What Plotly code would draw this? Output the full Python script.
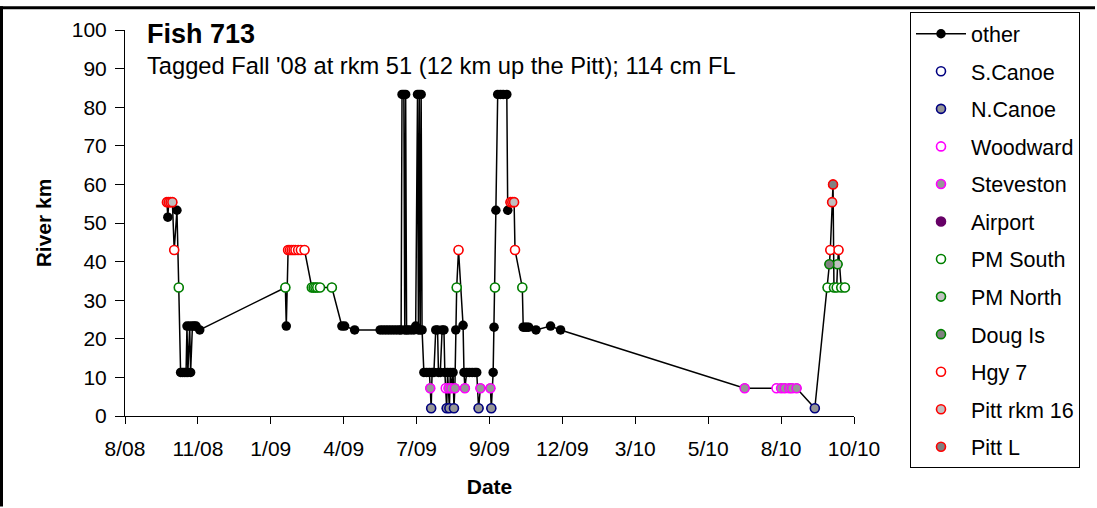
import plotly.graph_objects as go
import pandas as pd

# ---------------- data ----------------
dates = [
    "2008-10-05", "2008-10-06", "2008-10-07", "2008-10-09", "2008-10-11", "2008-10-13", "2008-10-16", "2008-10-18",
    "2008-10-20", "2008-10-22", "2008-10-24", "2008-10-26", "2008-10-27", "2008-10-28", "2008-10-30", "2008-10-31",
    "2008-11-02", "2008-11-04", "2008-11-06", "2008-11-10",
    "2009-02-12", "2009-02-13", "2009-02-15", "2009-02-17", "2009-02-19", "2009-02-21", "2009-02-23", "2009-02-26",
    "2009-03-01", "2009-03-05", "2009-03-13", "2009-03-15", "2009-03-17", "2009-03-19", "2009-03-22", "2009-04-04",
    "2009-04-15", "2009-04-18", "2009-04-29",
    "2009-05-27", "2009-05-30", "2009-06-02", "2009-06-05", "2009-06-08", "2009-06-11", "2009-06-14", "2009-06-17",
    "2009-06-19", "2009-06-20", "2009-06-22", "2009-06-23", "2009-06-24", "2009-06-25", "2009-06-27", "2009-06-30",
    "2009-07-03", "2009-07-05", "2009-07-07", "2009-07-08", "2009-07-09", "2009-07-10", "2009-07-11", "2009-07-12",
    "2009-07-14", "2009-07-17", "2009-07-20", "2009-07-21", "2009-07-22", "2009-07-23", "2009-07-25", "2009-07-27",
    "2009-07-29", "2009-07-30", "2009-08-01", "2009-08-03", "2009-08-05", "2009-08-06", "2009-08-07", "2009-08-08",
    "2009-08-09", "2009-08-10", "2009-08-11", "2009-08-12", "2009-08-13", "2009-08-15", "2009-08-16", "2009-08-17",
    "2009-08-18", "2009-08-19", "2009-08-21", "2009-08-26", "2009-08-27", "2009-08-28", "2009-08-30", "2009-09-02",
    "2009-09-05", "2009-09-08", "2009-09-10", "2009-09-12", "2009-09-14", "2009-09-25", "2009-09-26", "2009-09-28",
    "2009-09-29", "2009-09-30", "2009-10-01", "2009-10-03", "2009-10-06", "2009-10-09", "2009-10-13", "2009-10-14",
    "2009-10-17", "2009-10-19", "2009-10-21", "2009-10-22", "2009-10-30", "2009-10-31", "2009-11-02", "2009-11-04",
    "2009-11-06", "2009-11-14", "2009-11-30", "2009-12-11",
    "2010-07-01", "2010-08-05", "2010-08-10", "2010-08-14", "2010-08-19", "2010-08-22", "2010-08-27", "2010-09-16",
    "2010-09-30", "2010-10-02", "2010-10-03", "2010-10-05", "2010-10-06", "2010-10-07", "2010-10-10", "2010-10-11",
    "2010-10-12", "2010-10-15", "2010-10-19",
]

river_km = [
    55.4, 51.5, 55.4, 55.4, 55.4, 43.0, 53.3, 33.3,
    11.3, 11.3, 11.3, 11.3, 23.3, 11.3, 23.3, 11.3,
    23.3, 23.3, 23.3, 22.3,
    33.3, 23.3, 43.0, 43.0, 43.0, 43.0, 43.0, 43.0,
    43.0, 43.0, 33.3, 33.3, 33.3, 33.3, 33.3, 33.3,
    23.3, 23.3, 22.3,
    22.3, 22.3, 22.3, 22.3, 22.3, 22.3, 22.3, 22.3,
    22.3, 83.3, 83.3, 22.3, 83.3, 22.3, 22.3, 22.3,
    22.3, 23.3, 83.3, 22.3, 83.3, 22.3, 83.3, 22.3,
    11.3, 11.3, 11.3, 7.2, 2.0, 11.3, 11.3, 22.3,
    22.3, 11.3, 11.3, 22.3, 22.3, 11.3, 7.2, 2.0,
    11.3, 7.2, 2.0, 11.3, 7.2, 11.3, 2.0, 7.2,
    22.3, 33.3, 43.0, 23.5, 11.3, 7.2, 11.3, 11.3,
    11.3, 11.3, 11.3, 2.0, 7.2, 7.2, 2.0, 11.3,
    23.0, 33.3, 53.3, 83.3, 83.3, 83.3, 83.3, 53.3,
    55.4, 55.4, 55.4, 43.0, 33.3, 23.0, 23.0, 23.0,
    23.0, 22.3, 23.3, 22.3,
    7.2, 7.2, 7.2, 7.2, 7.2, 7.2, 7.2, 2.0,
    33.3, 39.3, 43.0, 55.4, 60.0, 33.3, 33.3, 39.3,
    43.0, 33.3, 33.3,
]

station = [
    "Pitt rkm 16", "other", "Pitt rkm 16", "Pitt rkm 16", "Pitt rkm 16", "Hgy 7", "other", "PM South",
    "other", "other", "other", "other", "other", "other", "other", "other",
    "other", "other", "other", "other",
    "PM South", "other", "Hgy 7", "Hgy 7", "Hgy 7", "Hgy 7", "Hgy 7", "Hgy 7",
    "Hgy 7", "Hgy 7", "PM South", "PM South", "PM South", "PM South", "PM South", "PM South",
    "other", "other", "other",
    "other", "other", "other", "other", "other", "other", "other", "other",
    "other", "other", "other", "other", "other", "other", "other", "other",
    "other", "other", "other", "other", "other", "other", "other", "other",
    "other", "other", "other", "Steveston", "N.Canoe", "other", "other", "other",
    "other", "other", "other", "other", "other", "other", "Woodward", "N.Canoe",
    "other", "Steveston", "N.Canoe", "other", "Steveston", "other", "N.Canoe", "Steveston",
    "other", "PM South", "Hgy 7", "other", "other", "Steveston", "other", "other",
    "other", "other", "other", "N.Canoe", "Steveston", "Steveston", "N.Canoe", "other",
    "other", "PM South", "other", "other", "other", "other", "other", "other",
    "Pitt rkm 16", "Pitt rkm 16", "Pitt rkm 16", "Hgy 7", "PM South", "other", "other", "other",
    "other", "other", "other", "other",
    "Steveston", "Woodward", "Steveston", "Steveston", "Steveston", "Steveston", "Steveston", "N.Canoe",
    "PM South", "Doug Is", "Hgy 7", "Pitt rkm 16", "Pitt L", "PM South", "PM South", "PM North",
    "Hgy 7", "PM South", "PM South",
]

series_names = ["other", "S.Canoe", "N.Canoe", "Woodward", "Steveston", "Airport",
                "PM South", "PM North", "Doug Is", "Hgy 7", "Pitt rkm 16", "Pitt L"]

tick_labels = ["8/08", "11/08", "1/09", "4/09", "7/09", "9/09", "12/09", "3/10", "5/10", "8/10", "10/10"]

y_ticks = [0, 10, 20, 30, 40, 50, 60, 70, 80, 90, 100]

# ---------------- styles ----------------
outline = {
    "S.Canoe": "#000080", "N.Canoe": "#000080",
    "Woodward": "#FF00FF", "Steveston": "#FF00FF",
    "Airport": "#660066",
    "PM South": "#008000", "PM North": "#008000", "Doug Is": "#008000",
    "Hgy 7": "#FF0000", "Pitt rkm 16": "#FF0000", "Pitt L": "#FF0000",
}
fill = {
    "S.Canoe": "#FFFFFF", "N.Canoe": "#969696",
    "Woodward": "#FFFFFF", "Steveston": "#969696",
    "Airport": "#660066",
    "PM South": "#FFFFFF", "PM North": "#C0C0C0", "Doug Is": "#808080",
    "Hgy 7": "#FFFFFF", "Pitt rkm 16": "#C0C0C0", "Pitt L": "#808080",
}

FONT = "Arial, Liberation Sans, sans-serif"

fig = go.Figure()

x_all = pd.to_datetime(dates)

# track line through all detections, black markers
fig.add_trace(go.Scatter(
    x=x_all, y=river_km, mode="lines+markers", name="other", legendgroup="other",
    line=dict(color="black", width=1.5),
    marker=dict(color="black", size=9.5, symbol="circle"),
    hoverinfo="skip",
))

for name in series_names[1:]:
    xs = [d for d, s in zip(x_all, station) if s == name]
    ys = [v for v, s in zip(river_km, station) if s == name]
    if not xs:
        xs, ys = [None], [None]
    fig.add_trace(go.Scatter(
        x=xs, y=ys, mode="markers", name=name, legendgroup=name,
        marker=dict(color=fill[name], size=9, symbol="circle",
                    line=dict(color=outline[name], width=1.6)),
        hoverinfo="skip",
    ))

# ---------------- layout ----------------
L, R, T, B = 125, 243, 24, 92
W, H = 1097, 508
pw, ph = W - L - R, H - T - B

def px_x(px):
    return (px - L) / pw

def px_y(py):
    return (H - B - py) / ph

tick_vals = pd.date_range("2008-08-20", periods=len(tick_labels), freq="80D")

fig.update_layout(
    width=W, height=H, autosize=False,
    margin=dict(l=L, r=R, t=T, b=B, pad=0),
    paper_bgcolor="white", plot_bgcolor="white",
    font=dict(family=FONT, color="black", size=20),
    showlegend=True,
    legend=dict(
        x=px_x(910), y=px_y(6), xanchor="left", yanchor="top",
        bgcolor="white", bordercolor="black", borderwidth=1,
        font=dict(family=FONT, size=21.5, color="black"),
        tracegroupgap=6.6, itemwidth=50, maxheight=500,
    ),
    xaxis=dict(
        type="date",
        range=["2008-08-20", "2010-10-29"],
        tickmode="array", tickvals=tick_vals, ticktext=tick_labels,
        showline=True, linecolor="black", linewidth=1,
        ticks="outside", ticklen=7, tickcolor="black", tickwidth=1,
        ticklabelstandoff=7,
        showgrid=False, zeroline=False,
        tickfont=dict(family=FONT, size=21),
        title=dict(text="<b>Date</b>", font=dict(family=FONT, size=21), standoff=20),
    ),
    yaxis=dict(
        range=[0, 100],
        tickmode="array", tickvals=y_ticks,
        showline=True, linecolor="black", linewidth=1,
        ticks="outside", ticklen=9, tickcolor="black", tickwidth=1,
        ticklabelstandoff=4,
        showgrid=False, zeroline=False,
        tickfont=dict(family=FONT, size=21),
        title=dict(text="<b>River km</b>", font=dict(family=FONT, size=21), standoff=14),
    ),
    annotations=[
        dict(text="<b>Fish 713</b>", xref="paper", yref="paper",
             x=px_x(145), y=px_y(28), xanchor="left", yanchor="middle",
             showarrow=False, font=dict(family=FONT, size=27, color="black")),
        dict(text="Tagged Fall '08 at rkm 51 (12 km up the Pitt); 114 cm FL", xref="paper", yref="paper",
             x=px_x(145), y=px_y(60.5), xanchor="left", yanchor="middle",
             showarrow=False, font=dict(family=FONT, size=23.7, color="black")),
    ],
    shapes=[
        dict(type="line", xref="paper", yref="paper",
             x0=px_x(0), x1=px_x(1095), y0=px_y(1.5), y1=px_y(1.5),
             line=dict(color="black", width=3)),
        dict(type="line", xref="paper", yref="paper",
             x0=px_x(1.5), x1=px_x(1.5), y0=px_y(0), y1=px_y(508),
             line=dict(color="black", width=3)),
    ],
)

fig.write_html("out.html")
